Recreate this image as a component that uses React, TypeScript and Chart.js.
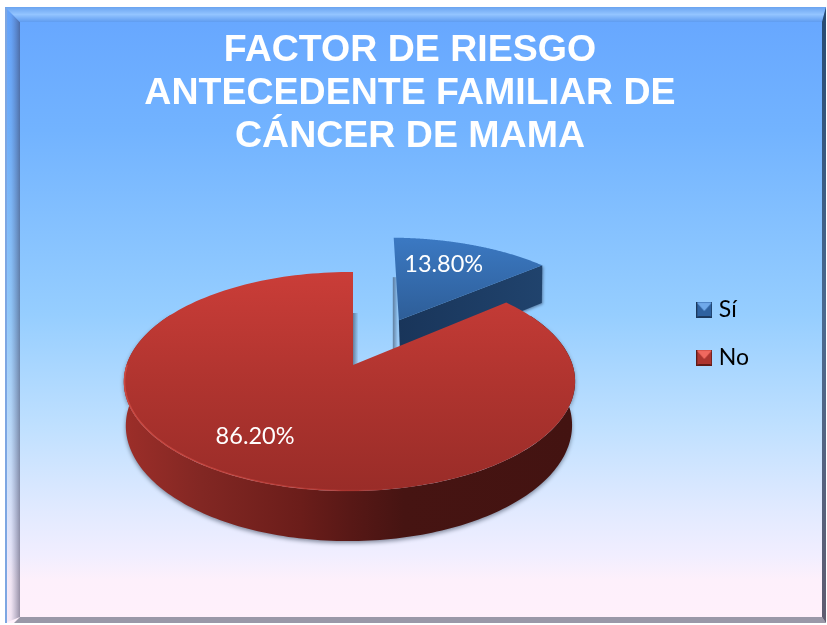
import React, { useEffect, useRef } from "react";
import { Chart, registerables } from "chart.js";

Chart.register(...registerables);

const categories = ["Sí", "No"];
const percentages = [13.8, 86.2];
const titleLines = ["FACTOR DE RIESGO", "ANTECEDENTE FAMILIAR DE", "CÁNCER DE MAMA"];

const W = 827;
const H = 625;
const R_TOP = 223, R_LOW = 220.5;
const CX = 353;
const CY_TOP = 365, CY_LOW = 408;
const KR_TOP = 107, KR_LOW = 113;
const P = 0.151;
const Q_TOP = 0.0155, Q_LOW = 0.018;
const EXPLODE_PX = 105;
const BLUE_SHIFT_TOP = 4.5, BLUE_SHIFT_LOW = 6.5, BLUE_LIFT = 2, BLUE_STRETCH = 1.02;
const LABEL_ANCHORS = [[0.457, -1.113], [-0.397, 0.595]];

function projTop(u: number, v: number, dx = 0, dy = 0) {
  const w = 1 - P * v + Q_TOP * u;
  return [CX + dx + (R_TOP * u) / w, CY_TOP + dy + (KR_TOP * v) / w];
}
function projLow(u: number, v: number, dx = 0, dy = 0) {
  const w = 1 - P * v + Q_LOW * u;
  return [CX + dx + (R_LOW * u) / w, CY_LOW + dy + (KR_LOW * v) / w];
}

function makeMarker(top: string, side: string, bottom: string, lightSide: string) {
  const c = document.createElement("canvas");
  c.width = 16;
  c.height = 16;
  const g = c.getContext("2d")!;
  g.fillStyle = side;
  g.fillRect(0, 0, 16, 16);
  g.fillStyle = top;
  g.beginPath(); g.moveTo(0, 0); g.lineTo(16, 0); g.lineTo(8, 9); g.closePath(); g.fill();
  g.fillStyle = bottom;
  g.beginPath(); g.moveTo(0, 16); g.lineTo(16, 16); g.lineTo(14, 14); g.lineTo(2, 14); g.closePath(); g.fill();
  g.fillStyle = bottom;
  g.fillRect(0, 0, 1, 16); g.fillRect(15, 0, 1, 16);
  g.fillStyle = lightSide;
  g.fillRect(1, 0, 14, 1);
  return c;
}

function sectorPath(ctx: CanvasRenderingContext2D, a0: number, a1: number, u0: number, v0: number, dx: number, dy: number, ru = 1) {
  ctx.beginPath();
  const s = projTop(u0, v0, dx, dy);
  ctx.moveTo(s[0], s[1]);
  const n = 180;
  for (let i = 0; i <= n; i++) {
    const a = a0 + ((a1 - a0) * i) / n;
    const p = projTop(u0 + ru * Math.cos(a), v0 + Math.sin(a), dx, dy);
    ctx.lineTo(p[0], p[1]);
  }
  ctx.closePath();
}

function stripe(ctx: CanvasRenderingContext2D, x: number, y0: number, y1: number) {
  const g = ctx.createLinearGradient(x, 0, x + 5, 0);
  g.addColorStop(0, "rgba(50,60,80,0.55)");
  g.addColorStop(1, "rgba(50,60,80,0.05)");
  ctx.fillStyle = g;
  ctx.fillRect(x, y0, 5, y1 - y0);
}

const background = {
  id: "background3d",
  beforeDraw(chart: any) {
    const ctx: CanvasRenderingContext2D = chart.ctx;
    const L = 5, T = 7, Rt = 826, B = 623, IL = 20, IT = 22, IR = 822, IB = 617;
    ctx.save();
    ctx.fillStyle = "#ffffff";
    ctx.fillRect(0, 0, W, H);

    const bg = ctx.createLinearGradient(0, T, 0, B);
    bg.addColorStop(0, "#66a6ff");
    bg.addColorStop(0.2, "#72b3ff");
    bg.addColorStop(0.5, "#96ceff");
    bg.addColorStop(0.68, "#bfe0ff");
    bg.addColorStop(0.82, "#e2eaff");
    bg.addColorStop(0.89, "#f1eeff");
    bg.addColorStop(0.93, "#fdf0fb");
    bg.addColorStop(1, "#fff0fb");
    ctx.fillStyle = bg;
    ctx.fillRect(L, T, Rt - L, B - T);

    const lb = ctx.createLinearGradient(L, 0, IL, 0);
    lb.addColorStop(0, "rgba(70,90,140,0.02)");
    lb.addColorStop(0.4, "rgba(70,80,130,0.08)");
    lb.addColorStop(1, "rgba(50,50,80,0.5)");
    ctx.fillStyle = lb;
    ctx.beginPath(); ctx.moveTo(L, T); ctx.lineTo(IL, IT); ctx.lineTo(IL, IB); ctx.lineTo(L, B); ctx.closePath(); ctx.fill();
    ctx.fillStyle = "#7da6e2";
    ctx.fillRect(L, T, 2, B - T);

    const tb = ctx.createLinearGradient(0, T, 0, IT);
    tb.addColorStop(0, "#6aa4f0");
    tb.addColorStop(0.5, "#93c4ff");
    tb.addColorStop(1, "#5f9cf0");
    ctx.fillStyle = tb;
    ctx.beginPath(); ctx.moveTo(L, T); ctx.lineTo(Rt, T); ctx.lineTo(IR, IT); ctx.lineTo(IL, IT); ctx.closePath(); ctx.fill();

    ctx.fillStyle = "#9a98a8";
    ctx.beginPath(); ctx.moveTo(IL, IB); ctx.lineTo(IR, IB); ctx.lineTo(Rt, B); ctx.lineTo(IL - 6, B); ctx.closePath(); ctx.fill();

    const rb = ctx.createLinearGradient(0, T, 0, B);
    rb.addColorStop(0, "#274a72");
    rb.addColorStop(0.5, "#4a6a90");
    rb.addColorStop(1, "#5f5c70");
    ctx.fillStyle = rb;
    ctx.beginPath(); ctx.moveTo(Rt, T); ctx.lineTo(Rt, B); ctx.lineTo(IR, IB); ctx.lineTo(IR, IT); ctx.closePath(); ctx.fill();
    ctx.restore();
  },
};

const pie3d = {
  id: "pie3d",
  beforeDatasetsDraw(chart: any) {
    const ctx: CanvasRenderingContext2D = chart.ctx;
    const meta = chart.getDatasetMeta(0);
    const [blue, red] = meta.data;
    ctx.save();

    const mid = (blue.startAngle + blue.endAngle) / 2;
    const off = blue.options.offset / R_TOP;
    const u0 = off * Math.cos(mid), v0 = off * Math.sin(mid);
    const e = blue.endAngle;
    const eu = u0 + BLUE_STRETCH * Math.cos(e), ev = v0 + Math.sin(e);
    const sideTopA = projTop(u0, v0, BLUE_SHIFT_TOP, -BLUE_LIFT);
    const sideTopB = projTop(eu, ev, BLUE_SHIFT_TOP, -BLUE_LIFT);
    const sideLowA = projLow(u0, v0, BLUE_SHIFT_LOW, -BLUE_LIFT);
    const sideLowB = projLow(eu, ev, BLUE_SHIFT_LOW, -BLUE_LIFT);

    stripe(ctx, sideTopA[0] - 6, sideTopA[1] - 43, sideTopA[1] + 29);

    ctx.save();
    ctx.shadowColor = "rgba(40,60,90,0.55)";
    ctx.shadowBlur = 3;
    ctx.shadowOffsetX = 1;
    ctx.shadowOffsetY = 1;
    const bs = ctx.createLinearGradient(sideTopA[0], 0, sideTopB[0], 0);
    bs.addColorStop(0, "#19355a");
    bs.addColorStop(1, "#20436d");
    ctx.fillStyle = bs;
    ctx.beginPath();
    ctx.moveTo(sideTopA[0], sideTopA[1]);
    ctx.lineTo(sideTopB[0], sideTopB[1]);
    ctx.lineTo(sideLowB[0], sideLowB[1]);
    ctx.lineTo(sideLowA[0], sideLowA[1]);
    ctx.closePath();
    ctx.fill();
    ctx.restore();

    const bt = ctx.createLinearGradient(0, 237, 0, 320);
    bt.addColorStop(0, "#3b79c3");
    bt.addColorStop(1, "#2e5e98");
    ctx.fillStyle = bt;
    sectorPath(ctx, blue.startAngle, blue.endAngle, u0, v0, BLUE_SHIFT_TOP, -BLUE_LIFT, BLUE_STRETCH);
    ctx.fill();

    stripe(ctx, CX, CY_TOP - 52, CY_TOP + 1);

    ctx.save();
    ctx.shadowColor = "rgba(60,70,90,0.6)";
    ctx.shadowBlur = 4;
    ctx.shadowOffsetY = 2;
    const rs = ctx.createLinearGradient(125, 0, 575, 0);
    rs.addColorStop(0, "#9c2e29");
    rs.addColorStop(0.17, "#822723");
    rs.addColorStop(0.39, "#6b1d1a");
    rs.addColorStop(0.5, "#581816");
    rs.addColorStop(0.62, "#461412");
    rs.addColorStop(1, "#431311");
    ctx.fillStyle = rs;
    ctx.beginPath();
    const deg = Math.PI / 180;
    const n = 200;
    for (let i = 0; i <= n; i++) {
      const a = (-30 + (240 * i) / n) * deg;
      const p = projTop(Math.cos(a), Math.sin(a));
      if (i === 0) ctx.moveTo(p[0], p[1]);
      else ctx.lineTo(p[0], p[1]);
    }
    for (let i = n; i >= 0; i--) {
      const a = (-30 + (240 * i) / n) * deg;
      const p = projLow(Math.cos(a), Math.sin(a));
      ctx.lineTo(p[0], p[1]);
    }
    ctx.closePath();
    ctx.fill();
    ctx.restore();

    const rt = ctx.createLinearGradient(0, 272, 0, 492);
    rt.addColorStop(0, "#ca3d38");
    rt.addColorStop(0.5, "#b0342f");
    rt.addColorStop(1, "#992c28");
    ctx.fillStyle = rt;
    sectorPath(ctx, red.startAngle, red.endAngle, 0, 0, 0, 0);
    ctx.fill();

    const hl = ctx.createLinearGradient(125, 0, 400, 0);
    hl.addColorStop(0, "rgba(214,80,72,0.75)");
    hl.addColorStop(0.7, "rgba(205,70,64,0.5)");
    hl.addColorStop(1, "rgba(205,70,64,0)");
    ctx.strokeStyle = hl;
    ctx.lineWidth = 1.5;
    ctx.beginPath();
    for (let i = 0; i <= 120; i++) {
      const a = (80 + (100 * i) / 120) * deg;
      const p = projTop(Math.cos(a) * 0.997, Math.sin(a) * 0.997);
      if (i === 0) ctx.moveTo(p[0], p[1]);
      else ctx.lineTo(p[0], p[1]);
    }
    ctx.stroke();

    ctx.fillStyle = "#ffffff";
    ctx.font = "23.5px Lato";
    ctx.textAlign = "center";
    ctx.textBaseline = "middle";
    percentages.forEach((value, i) => {
      const [u, v] = LABEL_ANCHORS[i];
      const p = projTop(u, v, i === 0 ? 4 : 0, 0.5);
      ctx.fillText(`${value.toFixed(2)}%`, p[0], p[1]);
    });
    ctx.restore();
    return false;
  },
};

export default function App() {
  const ref = useRef<HTMLCanvasElement>(null);
  useEffect(() => {
    const markers = [
      makeMarker("#6fa9ea", "#2f62a0", "#1b385c", "#4f86c8"),
      makeMarker("#f0685f", "#ad3530", "#5f1a17", "#d9544c"),
    ];
    const colors = ["#3468aa", "#b8352f"];
    const chart = new Chart(ref.current!, {
      type: "pie",
      data: {
        labels: categories,
        datasets: [{ data: percentages, backgroundColor: colors, offset: [EXPLODE_PX, 0], borderWidth: 0 }],
      },
      options: {
        responsive: false,
        animation: false,
        layout: { padding: { left: 61, right: 68, top: 0, bottom: 122 } },
        plugins: {
          tooltip: { enabled: false },
          title: {
            display: true,
            text: titleLines,
            color: "#ffffff",
            font: { family: "'Liberation Sans'", size: 37.5, weight: "bold", lineHeight: 1.147 },
            padding: { top: 29, bottom: 7 },
          },
          legend: {
            position: "right",
            fullSize: false,
            labels: {
              color: "#ffffff",
              font: { family: "Lato", size: 23 },
              usePointStyle: true,
              boxWidth: 6,
              padding: 25,
              generateLabels: () =>
                categories.map((t, i) => ({
                  text: t,
                  fillStyle: colors[i],
                  strokeStyle: colors[i],
                  lineWidth: 0,
                  pointStyle: markers[i],
                  index: i,
                  datasetIndex: 0,
                  hidden: false,
                })),
            },
          },
        },
      },
      plugins: [background, pie3d],
    } as any);
    return () => chart.destroy();
  }, []);
  return (
    <canvas
      ref={ref}
      width={W}
      height={H}
      style={{ position: "absolute", left: 0, top: 0, width: W, height: H, display: "block" }}
    />
  );
}
